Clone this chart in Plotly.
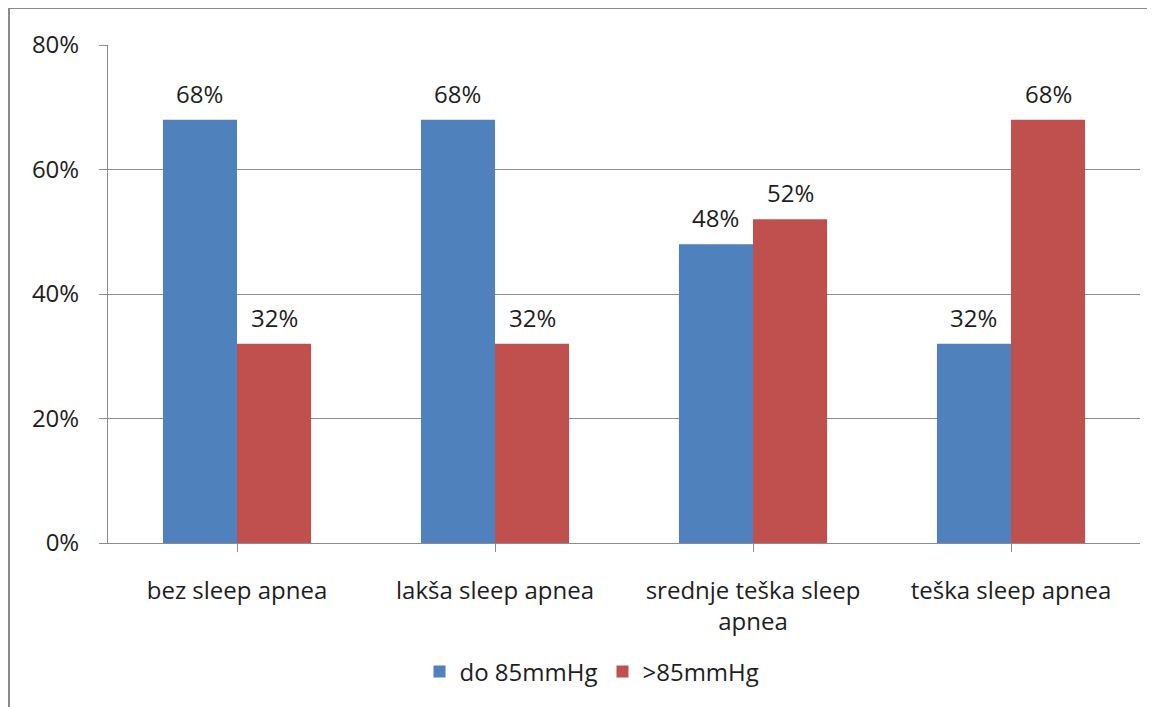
import plotly.graph_objects as go

categories = ["bez sleep apnea", "lakša sleep apnea", "srednje teška sleep<br>apnea", "teška sleep apnea"]
series_names = ["do 85mmHg", ">85mmHg"]
do85 = [0.68, 0.68, 0.48, 0.32]
over85 = [0.32, 0.32, 0.52, 0.68]
colors = ["#4F81BD", "#C0504D"]
ytick_vals = [0, 0.2, 0.4, 0.6, 0.8]
ytick_text = ["0%", "20%", "40%", "60%", "80%"]

FONT = "'Open Sans', 'Noto Sans', sans-serif"
FS = 24
TXT = "#1e1e1e"
GRID = "#8c8c8c"
bargap = 0.426

fig = go.Figure()
for name, vals, col in zip(series_names, [do85, over85], colors):
    fig.add_trace(go.Bar(x=list(range(len(categories))), y=vals, name=name,
                         marker=dict(color=col, line=dict(width=0))))

# data labels above bars
bw = (1 - bargap) / 2
for k, vals in enumerate([do85, over85]):
    off = (k - 0.5) * bw
    for i, v in enumerate(vals):
        fig.add_annotation(x=i + off, y=v, xref="x", yref="y", text=f"{round(v*100)}%",
                           showarrow=False, yanchor="bottom", yshift=8,
                           font=dict(family=FONT, size=FS, color=TXT))

# outer frame
fig.add_shape(type="rect", xref="paper", yref="paper",
              x0=(9 - 108) / 1032, x1=(1175 - 108) / 1032,
              y0=(543 - 730) / 498, y1=(543 - 8) / 498,
              line=dict(color="#8a8a8a", width=2), fillcolor="rgba(0,0,0,0)", layer="below")

# page body has an 8px margin; compensate so the plot lands at the reference pixels
fig.update_layout(
    width=1155, height=707,
    margin=dict(l=100, r=23, t=37, b=172, autoexpand=False),
    paper_bgcolor="white", plot_bgcolor="white",
    barmode="group", bargap=bargap, bargroupgap=0,
    font=dict(family=FONT, size=FS, color=TXT),
    showlegend=True,
    legend=dict(orientation="h", x=0.469, xanchor="center", y=-0.259, yanchor="middle",
                font=dict(family=FONT, size=FS, color=TXT), itemwidth=30,
                traceorder="normal"),
    xaxis=dict(tickmode="array", tickvals=list(range(len(categories))), ticktext=categories,
               range=[-0.5, len(categories) - 0.5], automargin=False,
               showline=True, linecolor=GRID, linewidth=1,
               ticks="outside", ticklen=8, tickcolor=GRID, showgrid=False,
               ticklabelstandoff=18, tickfont=dict(family=FONT, size=FS, color=TXT)),
    yaxis=dict(range=[0, 0.8], tickvals=ytick_vals, ticktext=ytick_text, automargin=False,
               showline=True, linecolor=GRID, linewidth=1,
               ticks="outside", ticklen=8, tickcolor=GRID,
               showgrid=True, gridcolor=GRID, gridwidth=1, zeroline=False,
               ticklabelstandoff=15, tickfont=dict(family=FONT, size=FS, color=TXT)),
)

fig.write_html("out.html")
